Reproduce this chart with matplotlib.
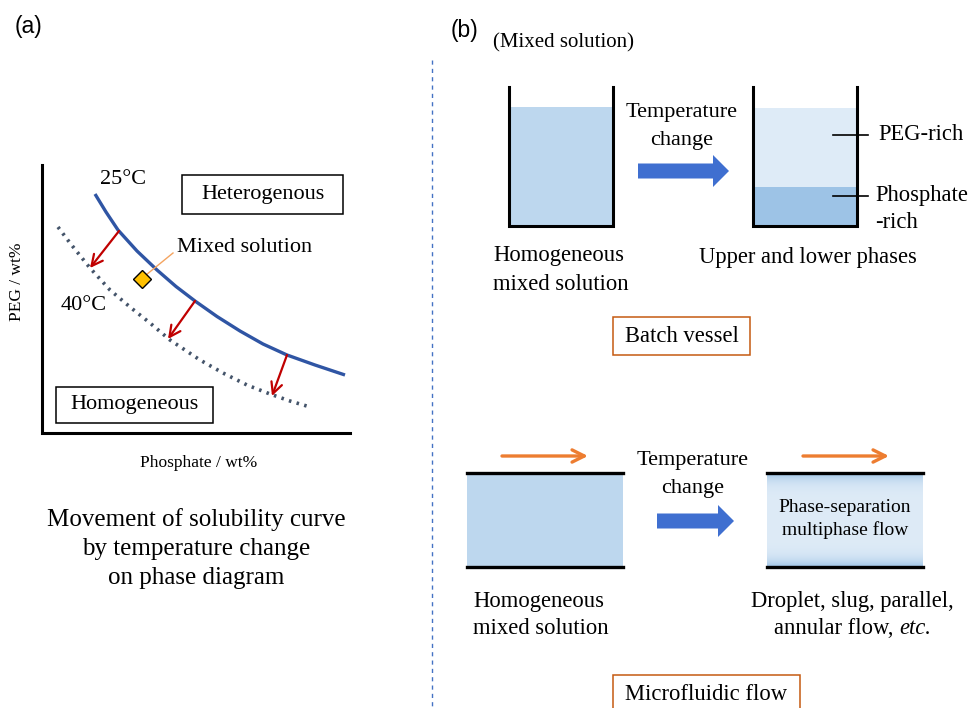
"""Phase diagram and phase-separation schematic (batch vessel vs microfluidic flow)."""

import numpy as np
import matplotlib

matplotlib.use("Agg")
import matplotlib.pyplot as plt
import matplotlib.patches as mpatches
from matplotlib.colors import to_rgb

plt.rcParams.update(
    {
        "font.family": ["Liberation Serif", "DejaVu Serif"],
        "font.size": 16,
        "figure.facecolor": "white",
        "savefig.facecolor": "white",
    }
)

C = {
    "curve": "#2F55A4",
    "dots": "#44546A",
    "red": "#C00000",
    "diamond": "#FFC000",
    "leader": "#F4A460",
    "fill": "#BDD7EE",
    "upper": "#DEEBF7",
    "lower": "#9DC3E6",
    "block": "#3F6FD0",
    "orange": "#ED7D31",
    "box": "#C55A11",
    "divider": "#4472C4",
}

# Solubility curves on the schematic phase diagram (figure pixel coordinates).
curve_25_x = [95, 106, 118, 137, 157, 176, 195, 217, 240, 263, 287, 315, 345]
curve_25_y = [194, 212, 230, 251, 270, 286.5, 301, 316.5, 331, 344, 355, 365, 375]
curve_40_x = [58, 70, 90, 110, 130, 150, 170, 182, 200, 223, 247, 270, 290, 310]
curve_40_y = [227, 243, 268, 290, 307, 323, 340, 348, 360, 373, 385, 394, 401, 407]

# Shift arrows from the 25 degC curve to the 40 degC curve.
shift_start = [(119, 231), (195, 301), (287, 355)]
shift_end = [(90, 268), (168, 339), (272, 396)]

mixed_point = (142, 279)


def arrow(ax, start, end, color, lw, ms, style="->"):
    ax.annotate(
        "",
        xy=end,
        xytext=start,
        arrowprops=dict(arrowstyle=style, color=color, lw=lw, shrinkA=0, shrinkB=0,
                        mutation_scale=ms),
    )


def block_arrow(ax, x0, x1, yc):
    ax.add_patch(
        mpatches.FancyArrow(
            x0, yc, x1 - x0, 0, width=15, head_width=32, head_length=16,
            length_includes_head=True, color=C["block"], lw=0,
        )
    )


def lines(ax, x, ys, texts, ha="center", fs=16, **kw):
    for y, s in zip(ys, texts):
        ax.text(x, y, s, ha=ha, va="center", fontsize=fs, **kw)


def boxed(ax, x0, y0, x1, y1, text, ec, fs=16):
    ax.add_patch(mpatches.Rectangle((x0, y0), x1 - x0, y1 - y0, fc="white", ec=ec, lw=1.1))
    ax.text((x0 + x1) / 2, (y0 + y1) / 2, text, ha="center", va="center", fontsize=fs)


def beaker(ax, xl, xr, top, bottom):
    ax.plot([xl, xl, xr, xr], [top, bottom, bottom, top], color="black", lw=2.2,
            solid_joinstyle="miter", zorder=5)


fig = plt.figure(figsize=(9.68, 7.08), dpi=100)
ax = fig.add_axes([0, 0, 1, 1])
ax.axis("off")

# ---------------- (a) phase diagram ----------------
ax.text(29, 27, "(a)", ha="center", va="center", fontsize=16.5, family=["Liberation Sans"])

ax.plot([42, 42, 350], [165, 433, 433], color="black", lw=2.2, solid_joinstyle="miter")
ax.text(17, 282, "PEG / wt%", rotation=90, ha="center", va="center", fontsize=12.5)
ax.text(199, 463, "Phosphate / wt%", ha="center", va="center", fontsize=12.5)

ax.plot(curve_25_x, curve_25_y, color=C["curve"], lw=2.4, solid_capstyle="butt",
        solid_joinstyle="round")
ax.plot(curve_40_x, curve_40_y, color=C["dots"], lw=2.6, ls=(0, (0.7, 1.5)),
        dash_capstyle="butt")

for s, e in zip(shift_start, shift_end):
    arrow(ax, s, e, C["red"], 1.6, 20)

ax.plot([mixed_point[0] + 4, 173], [mixed_point[1] - 4, 253], color=C["leader"], lw=1.0)
ax.plot(*mixed_point, marker="D", ms=9.5, mfc=C["diamond"], mec="black", mew=1.0, zorder=6)
ax.text(177, 248, "Mixed solution", ha="left", va="center", fontsize=16)

ax.text(123, 180, "25°C", ha="center", va="center", fontsize=16)
ax.text(84, 305, "40°C", ha="center", va="center", fontsize=16)

boxed(ax, 182, 175, 343, 214, "Heterogenous", "black", 16)
boxed(ax, 56, 387, 213, 423, "Homogeneous", "black", 16)

lines(ax, 196, [520, 549, 578],
      ["Movement of solubility curve", "by temperature change", "on phase diagram"], fs=18)

# divider
ax.plot([432, 432], [60, 708], color=C["divider"], lw=1.0, ls=(0, (3, 3)))

# ---------------- (b) batch vessel ----------------
ax.text(464, 30, "(b)", ha="center", va="center", fontsize=16.5, family=["Liberation Sans"])
ax.text(493, 43, "(Mixed solution)", ha="left", va="center", fontsize=15)

ax.add_patch(mpatches.Rectangle((509, 107), 104, 119, fc=C["fill"], ec="none"))
beaker(ax, 509, 613, 87, 226)

ax.add_patch(mpatches.Rectangle((753, 108), 104, 79, fc=C["upper"], ec="none"))
ax.add_patch(mpatches.Rectangle((753, 187), 104, 39, fc=C["lower"], ec="none"))
beaker(ax, 753, 857, 87, 226)

lines(ax, 682, [112, 140], ["Temperature", "change"])
block_arrow(ax, 638, 729, 171)

ax.plot([833, 868], [135, 135], color="black", lw=1.2, zorder=6)
ax.plot([833, 868], [196, 196], color="black", lw=1.2, zorder=6)
ax.text(878, 135, "PEG-rich", ha="left", va="center", fontsize=16.3)
lines(ax, 875, [196, 222], ["Phosphate", "-rich"], ha="left", fs=16.3)

lines(ax, 493, [256, 284], ["Homogeneous", "mixed solution"], ha="left", fs=16.3)
ax.text(808, 258, "Upper and lower phases", ha="center", va="center", fontsize=16.3)

boxed(ax, 613, 317, 750, 355, "Batch vessel", C["box"], 16.3)

# ---------------- (b) microfluidic flow ----------------
arrow(ax, (502, 456), (588, 456), C["orange"], 2.4, 22)
arrow(ax, (803, 456), (889, 456), C["orange"], 2.4, 22)

ax.add_patch(mpatches.Rectangle((467, 473), 156, 94, fc=C["fill"], ec="none"))
ax.plot([467, 623], [473, 473], color="black", lw=2.4)
ax.plot([467, 623], [567, 567], color="black", lw=2.4)

# gradient channel: darker near both walls, lighter in the core
t = np.linspace(-1, 1, 200)
w = np.clip(np.abs(t) ** 6, 0, 1)[:, None]
grad = (1 - w) * np.array(to_rgb(C["upper"])) + w * np.array(to_rgb(C["lower"]))
grad = np.repeat(grad[:, None, :], 2, axis=1)
ax.imshow(grad, extent=(767, 923, 567, 473), aspect="auto", interpolation="bilinear", zorder=1)
ax.plot([767, 923], [473, 473], color="black", lw=2.4, zorder=3)
ax.plot([767, 923], [567, 567], color="black", lw=2.4, zorder=3)
lines(ax, 845, [508, 530], ["Phase-separation", "multiphase flow"], fs=14, zorder=4)

lines(ax, 693, [460, 488], ["Temperature", "change"])
block_arrow(ax, 657, 734, 521)

lines(ax, 473, [601, 628], ["Homogeneous", "mixed solution"], ha="left", fs=16.3)
ax.text(852, 602, "Droplet, slug, parallel,", ha="center", va="center", fontsize=16.3)
ax.text(899, 629, "annular flow, ", ha="right", va="center", fontsize=16.3)
ax.text(899, 629, "etc.", ha="left", va="center", fontsize=16.3, style="italic")

ax.add_patch(mpatches.Rectangle((613, 675), 187, 40, fc="white", ec=C["box"], lw=1.1))
ax.text(706, 694, "Microfluidic flow", ha="center", va="center", fontsize=16.3)

ax.set_xlim(0, 968)
ax.set_ylim(708, 0)

fig.savefig("out.png", dpi=100)
plt.close(fig)
